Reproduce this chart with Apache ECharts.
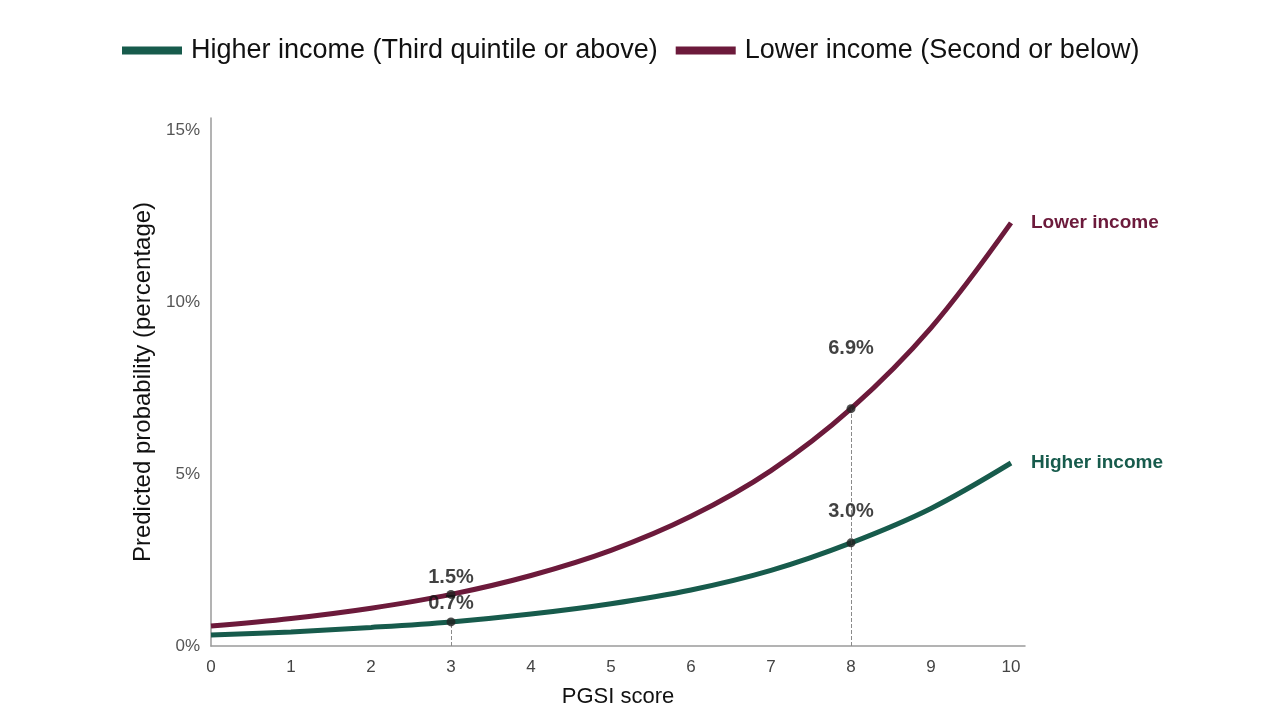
<!DOCTYPE html>
<html lang="en">
<head>
    <meta charset="utf-8">
    <script src="https://cdn.jsdelivr.net/npm/echarts@6/dist/echarts.min.js"></script>
    <style>
        html,body{margin:0;padding:0;background:#fff;}
        #chart{width:1280px;height:720px;}
    </style>
</head>
<body>
<div id="chart"></div>
<script>
    // PGSI score 0..10
    var pgsi = [0, 1, 2, 3, 4, 5, 6, 7, 8, 9, 10];
    var higherIncome = [0.32, 0.41, 0.54, 0.70, 0.93, 1.23, 1.63, 2.20, 3.00, 4.00, 5.32];
    var lowerIncome = [0.58, 0.80, 1.10, 1.50, 2.05, 2.78, 3.77, 5.10, 6.90, 9.25, 12.30];
    var yTicks = [0, 5, 10, 15];
    var markedScores = [3, 8];

    var green = '#175b4c';
    var maroon = '#6c1a3b';
    var font = "'Liberation Sans', Arial, sans-serif";

    function pairs(vals) {
        return pgsi.map(function (x, i) { return [x, vals[i]]; });
    }

    // dots + labels at the marked scores
    var dots = [];
    var labelDy = {lower: [0, -44], higher: [-2, -15]};
    markedScores.forEach(function (s, k) {
        var i = pgsi.indexOf(s);
        dots.push({value: [s, lowerIncome[i]], label: {offset: [0, labelDy.lower[k]]}});
        dots.push({value: [s, higherIncome[i]], label: {offset: [0, labelDy.higher[k]]}});
    });

    var guideLines = markedScores.map(function (s) {
        var top = lowerIncome[pgsi.indexOf(s)];
        if (s === 3) top = higherIncome[pgsi.indexOf(s)];
        return [{coord: [s, 0]}, {coord: [s, top]}];
    });

    var chart = echarts.init(document.getElementById('chart'));
    chart.setOption({
        animation: false,
        textStyle: {fontFamily: font},
        legend: {
            top: 32,
            left: 117,
            itemWidth: 60,
            itemHeight: 8,
            itemGap: 18,
            icon: 'rect',
            textStyle: {fontSize: 27, color: '#111', fontFamily: font, padding: [0, 0, 0, 4]},
            data: ['Higher income (Third quintile or above)', 'Lower income (Second or below)']
        },
        grid: {left: 211, right: 255, top: 118, bottom: 74},
        xAxis: {
            type: 'value',
            min: 0,
            max: 10.175,
            interval: 1,
            name: 'PGSI score',
            nameLocation: 'middle',
            nameGap: 40,
            nameTextStyle: {fontSize: 22, color: '#111'},
            axisLine: {lineStyle: {color: '#9a9a9a', width: 1.5}},
            axisTick: {show: false},
            splitLine: {show: false},
            axisLabel: {
                fontSize: 17, color: '#444', margin: 13,
                formatter: function (v) { return Number.isInteger(v) ? String(v) : ''; }
            }
        },
        yAxis: {
            type: 'value',
            min: 0,
            max: 15.35,
            interval: 5,
            name: 'Predicted probability (percentage)',
            nameLocation: 'middle',
            nameGap: 47,
            nameTextStyle: {fontSize: 24, color: '#111'},
            axisLine: {show: true, lineStyle: {color: '#9a9a9a', width: 1.5}},
            axisTick: {show: false},
            splitLine: {show: false},
            axisLabel: {
                fontSize: 17, color: '#555', margin: 11,
                formatter: function (v) { return yTicks.indexOf(v) >= 0 ? v + '%' : ''; }
            }
        },
        series: [
            {
                name: 'Higher income (Third quintile or above)',
                type: 'line',
                data: pairs(higherIncome),
                smooth: 0.35,
                showSymbol: false,
                color: green,
                lineStyle: {width: 5, color: green},
                endLabel: {
                    show: true, formatter: 'Higher income', distance: 20,
                    fontSize: 19, fontWeight: 'bold', color: green
                },
                markLine: {
                    silent: true,
                    symbol: 'none',
                    label: {show: false},
                    lineStyle: {type: 'dashed', color: '#8a8a8a', width: 1},
                    data: guideLines
                },
                z: 2
            },
            {
                name: 'Lower income (Second or below)',
                type: 'line',
                data: pairs(lowerIncome),
                smooth: 0.35,
                showSymbol: false,
                color: maroon,
                lineStyle: {width: 5, color: maroon},
                endLabel: {
                    show: true, formatter: 'Lower income', distance: 20,
                    fontSize: 19, fontWeight: 'bold', color: maroon
                },
                z: 2
            },
            {
                type: 'scatter',
                data: dots,
                symbolSize: 9,
                itemStyle: {color: '#222'},
                label: {
                    show: true,
                    position: 'top',
                    distance: 2,
                    fontSize: 20,
                    fontWeight: 'bold',
                    color: '#111',
                    formatter: function (p) { return p.value[1].toFixed(1) + '%'; }
                },
                z: 5
            }
        ]
    });
</script>
</body>
</html>
